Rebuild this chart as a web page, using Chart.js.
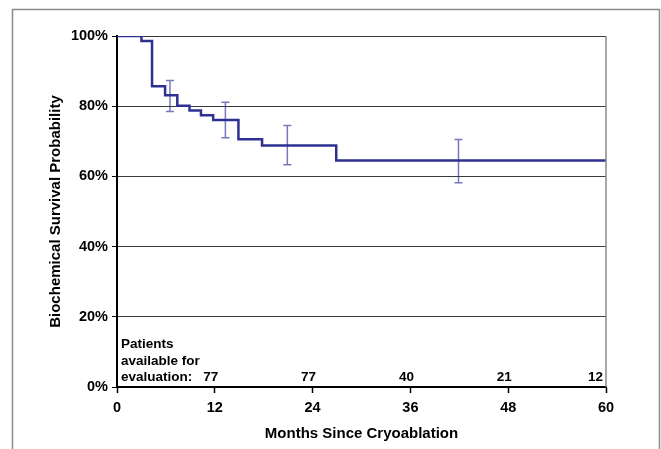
<!DOCTYPE html>
<html>
<head>
<meta charset="utf-8">
<script src="https://cdn.jsdelivr.net/npm/chart.js@4/dist/chart.umd.min.js"></script>
<style>
html,body{margin:0;padding:0;background:#fff;}
#wrap{width:661px;height:449px;}
</style>
</head>
<body>
<div id="wrap"><canvas id="km" width="661" height="449"></canvas></div>
<script>
// survival curve (months, %)
let stepMonths=[0,3,4.3,5.9,7.4,8.9,10.3,11.8,14.9,17.8,26.9,60];
let stepSurvival=[100,98.6,85.7,83.1,80.1,78.8,77.4,76.1,70.6,68.8,64.5,64.5];
// confidence bars
let errMonths=[6.5,13.3,20.9,41.9];
let errLow=[78.5,71.0,63.3,58.2];
let errHigh=[87.3,81.1,74.5,70.5];
// patients at risk
let riskMonths=[12,24,36,48,60];
let riskCounts=[77,77,40,21,12];
let xTicks=[0,12,24,36,48,60];
let yTicks=[0,20,40,60,80,100];

const FONT="'Liberation Sans', Arial, sans-serif";

const extras={
    id:"extras",
    beforeDraw(chart){
        let c=chart.ctx;
        c.save();
        c.strokeStyle="#8a8a8a";
        c.lineWidth=1.5;
        c.strokeRect(12.5,9.5,647,600);
        c.restore();
    },
    afterDatasetsDraw(chart){
        let c=chart.ctx,x=chart.scales.x,y=chart.scales.y,a=chart.chartArea;
        c.save();
        // right border
        c.strokeStyle="#8a8a8a";
        c.lineWidth=1.5;
        c.beginPath();c.moveTo(a.right,a.top);c.lineTo(a.right,a.bottom);c.stroke();
        // error bars
        c.strokeStyle="rgba(46,49,146,0.65)";
        c.lineWidth=1.5;
        errMonths.forEach((m,i)=>{
            let px=x.getPixelForValue(m),t=y.getPixelForValue(errHigh[i]),b=y.getPixelForValue(errLow[i]);
            c.beginPath();
            c.moveTo(px,t);c.lineTo(px,b);
            c.moveTo(px-4,t);c.lineTo(px+4,t);
            c.moveTo(px-4,b);c.lineTo(px+4,b);
            c.stroke();
        });
        // patients available
        c.fillStyle="#000";
        c.font="bold 13.5px "+FONT;
        c.textBaseline="alphabetic";
        c.textAlign="left";
        c.fillText("Patients",a.left+4,348);
        c.fillText("available for",a.left+4,365);
        c.fillText("evaluation:",a.left+4,381);
        riskMonths.forEach((m,i)=>{
            let px=x.getPixelForValue(m)-4;
            let w=c.measureText(String(riskCounts[i])).width;
            if(px+w/2>a.right-3) px=a.right-3-w/2;
            c.textAlign="center";
            c.fillText(String(riskCounts[i]),px,381);
        });
        c.restore();
    }
};

new Chart(document.getElementById("km"),{
    type:"line",
    data:{
        datasets:[{
            data:stepMonths.map((m,i)=>({x:m,y:stepSurvival[i]})),
            stepped:true,
            borderColor:"#2e3192",
            borderWidth:2.5,
            pointRadius:0,
            fill:false
        }]
    },
    options:{
        responsive:false,
        animation:false,
        layout:{padding:{left:40,top:36,right:55,bottom:0}},
        plugins:{legend:{display:false},tooltip:{enabled:false}},
        scales:{
            x:{
                type:"linear",min:0,max:60,
                afterBuildTicks:s=>{s.ticks=xTicks.map(v=>({value:v}));},
                afterFit:s=>{s.height=62;},
                grid:{drawOnChartArea:false,color:"#000",tickLength:6,tickWidth:1.5},
                border:{color:"#000",width:2},
                ticks:{color:"#000",padding:6,maxRotation:0,font:{family:FONT,size:14.5,weight:"bold"}},
                title:{display:true,text:"Months Since Cryoablation",color:"#000",
                    font:{family:FONT,size:15,weight:"bold"},padding:{top:0,bottom:6}}
            },
            y:{
                min:0,max:100,
                afterBuildTicks:s=>{s.ticks=yTicks.map(v=>({value:v}));},
                afterFit:s=>{s.width=77;},
                grid:{color:"#3a3a3a",lineWidth:1,tickLength:5,tickColor:"#000"},
                border:{color:"#000",width:2},
                ticks:{color:"#000",padding:4,callback:v=>v+"%",font:{family:FONT,size:14.5,weight:"bold"}},
                title:{display:true,text:"Biochemical Survival Probability",color:"#000",
                    font:{family:FONT,size:15,weight:"bold"},padding:{top:7,bottom:0}}
            }
        }
    },
    plugins:[extras]
});
</script>
</body>
</html>
